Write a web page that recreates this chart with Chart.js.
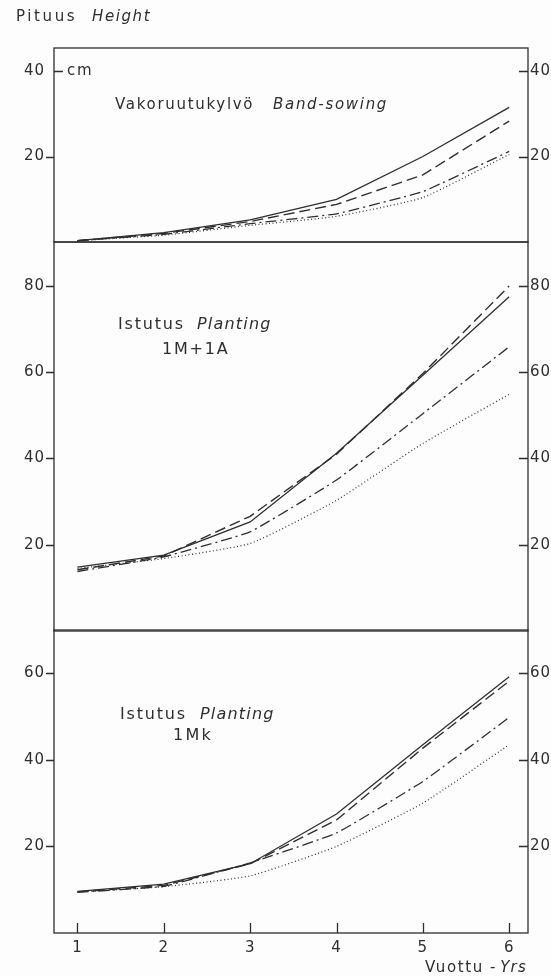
<!DOCTYPE html>
<html>
<head>
<meta charset="utf-8">
<script src="https://cdn.jsdelivr.net/npm/chart.js@4"></script>
<style>
    html, body { margin: 0; padding: 0; background: #fdfdfd; }
    #wrap { position: relative; width: 551px; height: 976px; overflow: hidden; }
    canvas { position: absolute; left: 0; }
</style>
</head>
<body>
<div id="wrap">
    <canvas id="band-chart" width="551" height="250" style="top:0"></canvas>
    <canvas id="planting-1m1a-chart" width="551" height="400" style="top:236px"></canvas>
    <canvas id="planting-1mk-chart" width="551" height="352" style="top:624px"></canvas>
</div>
<script>
// --- Data (cm, by year) ---
const years = [1, 2, 3, 4, 5, 6];
const xTickLabels = ['1', '2', '3', '4', '5', '6'];

// Vakoruutukylvö / Band-sowing
const bandSolid   = [0.3, 2.2, 5.2, 10.0, 20.0, 31.5];
const bandDashed  = [0.3, 2.0, 4.8, 8.8, 15.7, 28.3];
const bandDashDot = [0.3, 1.8, 4.3, 6.6, 11.8, 21.2];
const bandDotted  = [0.3, 1.6, 3.9, 6.0, 10.4, 20.5];
const bandTicks = [20, 40];

// Istutus / Planting 1M+1A
const m1a1Solid   = [14.8, 17.6, 25.3, 41.2, 59.3, 77.5];
const m1a1Dashed  = [14.2, 17.4, 26.6, 41.0, 59.7, 80.0];
const m1a1DashDot = [13.8, 17.2, 23.0, 35.0, 50.4, 65.9];
const m1a1Dotted  = [14.5, 16.8, 20.3, 30.3, 43.5, 54.9];
const m1a1Ticks = [20, 40, 60, 80];

// Istutus / Planting 1Mk
const mkSolid   = [9.6, 11.3, 16.0, 27.5, 43.5, 59.2];
const mkDashed  = [9.5, 11.0, 16.0, 26.1, 42.7, 58.2];
const mkDashDot = [9.4, 10.8, 16.2, 23.1, 35.0, 49.8];
const mkDotted  = [9.5, 10.7, 13.2, 20.0, 30.0, 43.5];
const mkTicks = [20, 40, 60];
// --------------------------

const INK = '#2e2e2e';
const FONT = '"DejaVu Sans", sans-serif';

function points(values) {
    return years.map((x, i) => ({ x: x, y: values[i] }));
}

function makeDatasets(solid, dashed, dashDot, dotted) {
    return [
        { data: points(solid),   borderDash: [],            borderWidth: 1.3, tension: 0 },
        { data: points(dashed),  borderDash: [11, 5],       borderWidth: 1.4, tension: 0 },
        { data: points(dashDot), borderDash: [11, 4, 2, 4], borderWidth: 1.3, tension: 0.1 },
        { data: points(dotted),  borderDash: [1, 2.5],      borderWidth: 1.2, tension: 0.15 }
    ].map(ds => Object.assign(ds, { borderColor: INK, pointRadius: 0, fill: false }));
}

function drawParts(ctx, note) {
    let x = note.x;
    note.parts.forEach(p => {
        ctx.font = (p.it ? 'italic ' : '') + (p.size || note.size || 15) + 'px ' + FONT;
        ctx.letterSpacing = (p.ls !== undefined ? p.ls : 1.8) + 'px';
        if (p.x !== undefined) x = p.x;
        let drawX = x;
        if (p.right !== undefined) drawX = p.right - ctx.measureText(p.t).width;
        ctx.fillText(p.t, drawX, note.y);
        x = drawX + ctx.measureText(p.t).width;
    });
}

// frame, tick marks and free text
const framePlugin = {
    id: 'frame',
    beforeDraw(chart) {
        chart.ctx.letterSpacing = '1px';
    },
    afterDraw(chart, args, opts) {
        const { ctx, chartArea: a, scales } = chart;
        ctx.save();
        ctx.strokeStyle = INK;
        ctx.lineWidth = 1.3;
        ctx.setLineDash([]);
        ctx.strokeRect(a.left, a.top, a.right - a.left, a.bottom - a.top);

        ctx.beginPath();
        scales.y.ticks.forEach(t => {
            const y = Math.round(scales.y.getPixelForValue(t.value)) + 0.5;
            if ((opts.insideLeft || []).includes(t.value)) {
                ctx.moveTo(a.left, y); ctx.lineTo(a.left + 9, y);
            } else {
                ctx.moveTo(a.left - 8, y); ctx.lineTo(a.left, y);
            }
            ctx.moveTo(a.right - 9, y); ctx.lineTo(a.right, y);
        });
        if (scales.x.options.display) {
            scales.x.ticks.forEach(t => {
                const x = Math.round(scales.x.getPixelForValue(t.value)) + 0.5;
                ctx.moveTo(x, a.bottom); ctx.lineTo(x, a.bottom - 10);
            });
        }
        ctx.stroke();

        ctx.fillStyle = INK;
        ctx.textBaseline = 'middle';
        (opts.notes || []).forEach(n => drawParts(ctx, n));
        ctx.restore();
    }
};

function noPad(s) {
    s.paddingTop = 0;
    s.paddingBottom = 0;
}

function makeChart(id, datasets, yMax, yTicks, cfg) {
    const tickFont = { family: FONT, size: 15 };
    return new Chart(document.getElementById(id), {
        type: 'line',
        data: { datasets: datasets },
        plugins: [framePlugin],
        options: {
            responsive: false,
            devicePixelRatio: 1,
            animation: false,
            layout: { padding: { top: cfg.padTop, bottom: cfg.padBottom, left: 0, right: 0 } },
            plugins: {
                legend: { display: false },
                tooltip: { enabled: false },
                frame: { notes: cfg.notes, insideLeft: cfg.insideLeft }
            },
            scales: {
                x: {
                    type: 'linear',
                    min: 0.728,
                    max: 6.218,
                    display: !!cfg.showX,
                    grid: { display: false, drawTicks: false },
                    border: { display: false },
                    afterBuildTicks: s => { s.ticks = years.map(v => ({ value: v })); },
                    afterFit: s => {
                        if (cfg.showX) { s.height = 43; s.paddingLeft = 0; s.paddingRight = 0; }
                        else { s.height = 0; }
                    },
                    ticks: {
                        font: tickFont,
                        color: INK,
                        padding: 6,
                        maxRotation: 0,
                        callback: (v) => xTickLabels[years.indexOf(v)]
                    }
                },
                y: {
                    position: 'left',
                    min: 0,
                    max: yMax,
                    grid: { display: false, drawTicks: false },
                    border: { display: false },
                    afterBuildTicks: s => { s.ticks = yTicks.map(v => ({ value: v })); },
                    afterFit: s => { s.width = 54; noPad(s); },
                    ticks: { font: tickFont, color: INK, padding: 9 }
                },
                yRight: {
                    position: 'right',
                    min: 0,
                    max: yMax,
                    grid: { display: false, drawTicks: false },
                    border: { display: false },
                    afterBuildTicks: s => { s.ticks = yTicks.map(v => ({ value: v })); },
                    afterFit: s => { s.width = 23; noPad(s); },
                    ticks: { font: tickFont, color: INK, padding: 2 }
                }
            }
        }
    });
}

makeChart('band-chart', makeDatasets(bandSolid, bandDashed, bandDashDot, bandDotted), 45.4, bandTicks, {
    padTop: 48, padBottom: 8,
    insideLeft: [40],
    notes: [
        { x: 16, y: 17, parts: [{ t: 'Pituus', ls: 2.6 }, { t: 'Height', it: true, x: 92, ls: 1.6 }] },
        { x: 67, y: 71, parts: [{ t: 'cm' }] },
        { x: 115, y: 105, size: 15, parts: [{ t: 'Vakoruutukylvö', ls: 1.7 }, { t: 'Band-sowing', it: true, x: 273, ls: 1.7 }] }
    ]
});

makeChart('planting-1m1a-chart', makeDatasets(m1a1Solid, m1a1Dashed, m1a1DashDot, m1a1Dotted), 90.2, m1a1Ticks, {
    padTop: 6, padBottom: 5,
    notes: [
        { x: 118, y: 325 - 236, size: 16, parts: [{ t: 'Istutus' }, { t: 'Planting', it: true, x: 197, ls: 1.2 }] },
        { x: 162, y: 350 - 236, size: 16, parts: [{ t: '1M+1A' }] }
    ]
});

makeChart('planting-1mk-chart', makeDatasets(mkSolid, mkDashed, mkDashDot, mkDotted), 70, mkTicks, {
    padTop: 6, padBottom: 0,
    showX: true,
    notes: [
        { x: 120, y: 715 - 624, size: 16, parts: [{ t: 'Istutus' }, { t: 'Planting', it: true, x: 200, ls: 1.2 }] },
        { x: 173, y: 736 - 624, size: 16, parts: [{ t: '1Mk', ls: 2.2 }] },
        { x: 425, y: 968 - 624, parts: [{ t: 'Vuottu', ls: 1.6 }, { t: '-', x: 490 }, { t: 'Yrs', it: true, right: 527, ls: 1.2 }] }
    ]
});
</script>
</body>
</html>
